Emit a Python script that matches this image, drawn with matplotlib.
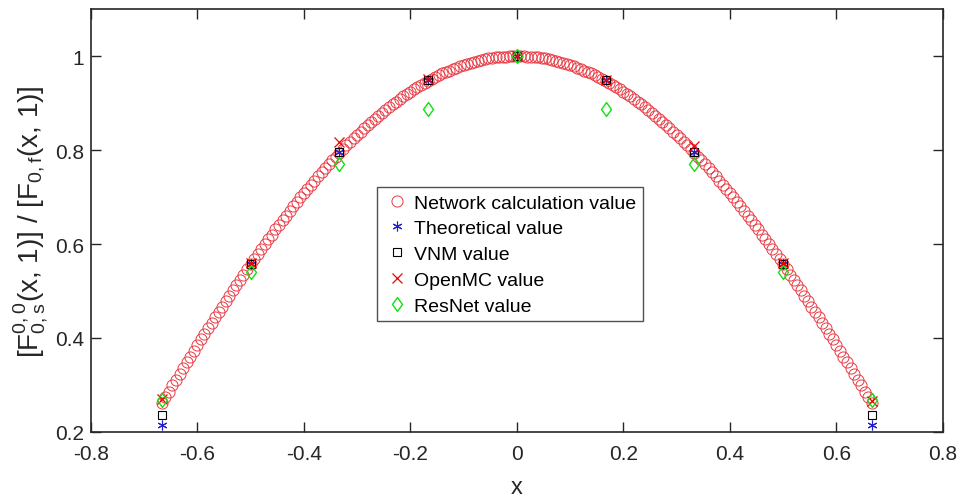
import numpy as np
import matplotlib
matplotlib.use("Agg")
import matplotlib.pyplot as plt
from matplotlib.path import Path

plt.rcParams['font.family'] = ['Liberation Sans', 'DejaVu Sans']
plt.rcParams['mathtext.default'] = 'regular'

# Network calculation values (dense curve), x from -2/3 to 2/3
net_half = [1.000, 1.000, 1.000, 0.999, 0.999, 0.998, 0.997, 0.996, 0.995, 0.993,
            0.991, 0.990, 0.988, 0.986, 0.983, 0.981, 0.978, 0.975, 0.972, 0.969,
            0.966, 0.963, 0.959, 0.955, 0.951, 0.947, 0.943, 0.938, 0.934, 0.929,
            0.924, 0.919, 0.914, 0.908, 0.903, 0.897, 0.891, 0.885, 0.879, 0.873,
            0.866, 0.860, 0.853, 0.846, 0.839, 0.832, 0.825, 0.817, 0.810, 0.802,
            0.794, 0.786, 0.778, 0.770, 0.761, 0.753, 0.744, 0.735, 0.726, 0.717,
            0.708, 0.699, 0.689, 0.680, 0.670, 0.660, 0.651, 0.641, 0.631, 0.620,
            0.610, 0.600, 0.589, 0.579, 0.568, 0.557, 0.546, 0.535, 0.524, 0.513,
            0.502, 0.490, 0.479, 0.467, 0.456, 0.444, 0.432, 0.421, 0.409, 0.397,
            0.385, 0.373, 0.360, 0.348, 0.336, 0.324, 0.311, 0.299, 0.286, 0.274,
            0.261]
net_vals = net_half[:0:-1] + net_half
net_x = np.linspace(-2/3, 2/3, len(net_vals))

# Discrete comparison points
pts_x = [-2/3, -1/2, -1/3, -1/6, 0.0, 1/6, 1/3, 1/2, 2/3]
theory = [0.215, 0.557, 0.795, 0.948, 1.000, 0.948, 0.795, 0.557, 0.215]
vnm = [0.237, 0.558, 0.795, 0.950, 1.000, 0.950, 0.795, 0.558, 0.237]
openmc = [0.270, 0.560, 0.818, 0.952, 1.000, 0.948, 0.808, 0.560, 0.265]
resnet = [0.268, 0.540, 0.770, 0.888, 1.000, 0.888, 0.770, 0.540, 0.268]

labels = ['Network calculation value', 'Theoretical value', 'VNM value',
          'OpenMC value', 'ResNet value']

diamond = Path([(0, 1), (0.72, 0), (0, -1), (-0.72, 0), (0, 1)],
               [Path.MOVETO, Path.LINETO, Path.LINETO, Path.LINETO, Path.CLOSEPOLY])

fig = plt.figure(figsize=(9.66, 5.02), dpi=100)
ax = fig.add_axes([0.094, 0.1375, 0.882, 0.8425])

ax.plot(net_x, net_vals, linestyle='none', marker='o', markersize=8,
        markerfacecolor='none', markeredgecolor='#e83a44', markeredgewidth=0.7,
        label=labels[0])
ax.plot(pts_x, theory, linestyle='none', marker=(6, 2, 0), markersize=7,
        color='#2020d0', markeredgewidth=0.8, label=labels[1])
ax.plot(pts_x, vnm, linestyle='none', marker='s', markersize=6,
        markerfacecolor='none', markeredgecolor='black', markeredgewidth=0.8,
        label=labels[2])
ax.plot(pts_x, openmc, linestyle='none', marker='x', markersize=6.5,
        color='#f00000', markeredgewidth=0.9, label=labels[3])
ax.plot(pts_x, resnet, linestyle='none', marker=diamond, markersize=10,
        markerfacecolor='none', markeredgecolor='#10e010', markeredgewidth=1.0,
        label=labels[4])

ax.set_xlim(-0.8, 0.8)
ax.set_ylim(0.2, 1.1)
ax.set_xticks([-0.8, -0.6, -0.4, -0.2, 0, 0.2, 0.4, 0.6, 0.8])
ax.set_xticklabels(['-0.8', '-0.6', '-0.4', '-0.2', '0', '0.2', '0.4', '0.6', '0.8'])
ax.set_yticks([0.2, 0.4, 0.6, 0.8, 1.0])
ax.set_yticklabels(['0.2', '0.4', '0.6', '0.8', '1'])
ax.tick_params(direction='in', length=7, width=1.0, top=True, right=True,
               labelsize=15, colors='#262626')
ax.tick_params(axis='x', pad=9)
ax.tick_params(axis='y', pad=5)
for s in ax.spines.values():
    s.set_linewidth(1.2)
    s.set_color('#262626')

ax.set_xlabel('x', fontsize=17, color='#262626', labelpad=9)
ax.set_ylabel(r'[F$^{0,0}_{0,s}$(x, 1)] / [F$_{0,f}$(x, 1)]', fontsize=20,
              color='#262626', labelpad=3)

leg = ax.legend(loc='upper left', bbox_to_anchor=(0.336, 0.579), borderaxespad=0,
                fontsize=14, frameon=True, fancybox=False, edgecolor='#262626',
                handletextpad=0.25, handlelength=1.3, labelspacing=0.42,
                borderpad=0.35)
leg.get_frame().set_linewidth(1.0)

fig.savefig('out.png', dpi=100)
